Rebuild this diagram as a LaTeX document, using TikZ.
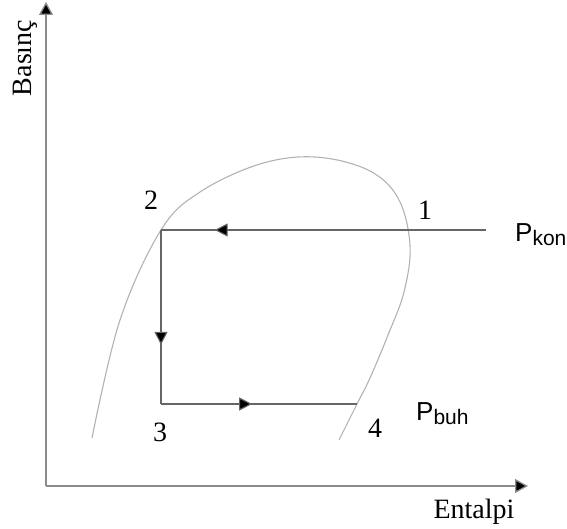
\documentclass[tikz,border=0pt]{standalone}
\usepackage{fontspec}
\setmainfont{Liberation Serif}
\newfontfamily\arialf{Liberation Sans}
\usetikzlibrary{arrows.meta,decorations.markings}
\newcommand{\psub}[1]{\raisebox{-4pt}{\fontsize{21}{23}\selectfont #1}}
\tikzset{
  axis/.style={draw=black!45,line width=1.3pt,-{Triangle[length=13pt,width=14pt,fill=black]}},
  cycle/.style={draw=black!60,line width=1.1pt},
  dome/.style={draw=black!30,line width=1.1pt},
  lbl/.style={font=\fontsize{28}{30}\selectfont,inner sep=0pt},
  plbl/.style={font=\arialf\fontsize{26}{28}\selectfont,inner sep=0pt,anchor=base west},
  midarrow/.style={postaction={decorate},decoration={markings,mark=at position #1 with {\arrow{Triangle[length=13pt,width=13pt,fill=black]}}}}
}
\begin{document}
\begin{tikzpicture}[x=1pt,y=-1pt]
\useasboundingbox (0,0) rectangle (567,529);
% axes
\coordinate (O) at (46,486);
\coordinate (ytop) at (46,2);
\coordinate (xend) at (528,486);
\draw[axis] (O) -- (ytop);
\draw[axis] (O) -- (xend);
\node[lbl,rotate=90] (ylab) at (25,58) {Basınç};
\node[lbl,anchor=north] (xlab) at (474,499) {Entalpi};
% dome
\draw[dome] plot[smooth,tension=0.6] coordinates {(92,438) (120,320) (161,230) (200,192) (260,164) (315,157) (368,170) (398,198) (410,245) (404,292) (388,335) (370,378) (357,404) (339,440)};
% cycle
\coordinate (p1) at (486,230);
\coordinate (p2) at (161,230);
\coordinate (p3) at (161,404);
\coordinate (p4) at (357,404);
\draw[cycle,midarrow=0.835] (p1) -- (p2);
\draw[cycle,midarrow=0.66] (p2) -- (p3);
\draw[cycle,midarrow=0.465] (p3) -- (p4);
% labels
\node[lbl] (l1) at (425,210) {1};
\node[lbl] (l2) at (151,200) {2};
\node[lbl] (l3) at (160,432) {3};
\node[lbl] (l4) at (375,428) {4};
\node[plbl] (pkon) at (515,242) {P\psub{kon}};
\node[plbl] (pbuh) at (416,420) {P\psub{buh}};
\end{tikzpicture}
\end{document}
